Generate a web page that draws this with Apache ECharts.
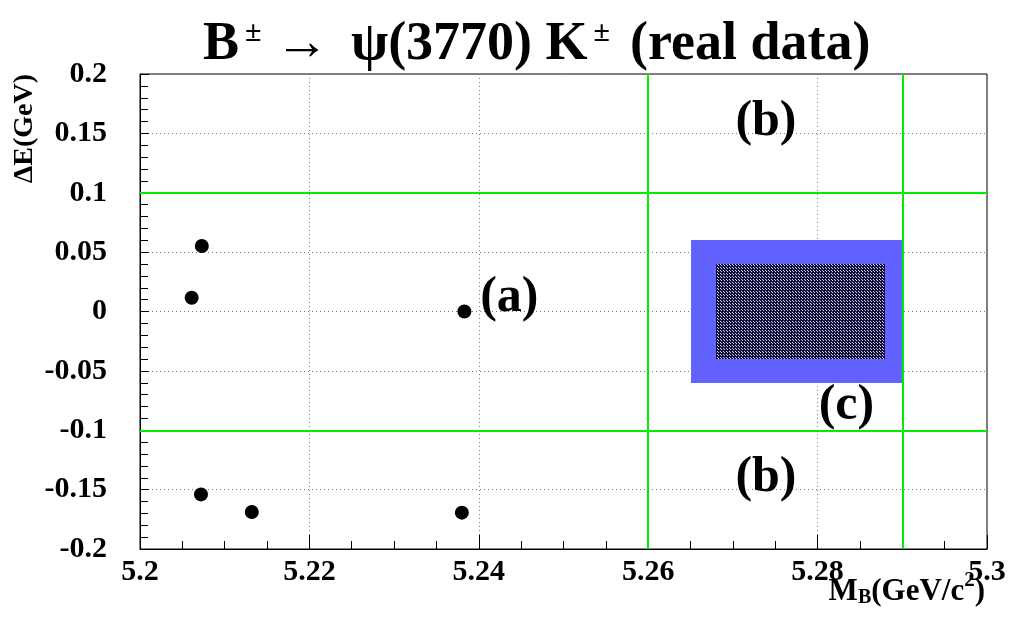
<!DOCTYPE html>
<html>
<head>
<meta charset="utf-8">
<script src="https://cdn.jsdelivr.net/npm/echarts@6/dist/echarts.min.js"></script>
<style>
html,body{margin:0;padding:0;background:#fff;}
#c{width:1010px;height:619px;}
</style>
</head>
<body>
<div id="c"></div>
<script>
// ---- data ----
const eventsMB = [5.2073, 5.2061, 5.2383, 5.2072, 5.2132, 5.2380];
const eventsDE = [0.0552, 0.0116, 0.0000, -0.154, -0.1688, -0.1694];
const cutLinesDE = [0.1, -0.1];
const cutLinesMB = [5.26, 5.29];
const outerBoxMB = [5.265, 5.29];
const outerBoxDE = [-0.06, 0.06];
const innerBoxMB = [5.268, 5.288];
const innerBoxDE = [-0.04, 0.04];
const regionLabels = ['(a)', '(b)', '(b)', '(c)'];
const regionLabelMB = [5.2436, 5.2739, 5.2739, 5.2834];
const regionLabelDE = [0.0114, 0.1596, -0.1402, -0.0796];
const xTicks = {min: 5.2, max: 5.3, step: 0.02};
const yTicks = {min: -0.2, max: 0.2, step: 0.05};

const FONT = "'Liberation Serif','Times New Roman',serif";

function dotPattern(size, dot, pts) {
  const c = document.createElement('canvas');
  c.width = size; c.height = size;
  const g = c.getContext('2d');
  g.clearRect(0, 0, size, size);
  g.fillStyle = dot;
  pts.forEach(p => g.fillRect(p[0], p[1], 1, 1));
  return c;
}
const darkDots = dotPattern(3, 'rgba(215,215,245,0.95)', [[1, 1], [0, 0]]);

const fmt = v => String(parseFloat(v.toFixed(3)));

const boxes = [
  {mb: outerBoxMB, de: outerBoxDE, base: '#6262ff', dots: null},
  {mb: innerBoxMB, de: innerBoxDE, base: '#12123a', dots: darkDots}
];

const T = {fontFamily: FONT, fontWeight: 'bold', fontSize: 54, color: '#000'};
const chart = echarts.init(document.getElementById('c'), null, {renderer: 'canvas'});
chart.setOption({
  animation: false,
  backgroundColor: '#fff',
  title: {
    text: '{n|B}{sup|±}{n| →}{psi|ψ}{n|(3770) K}{sup2|±}{rest|(real data)}',
    left: 198, top: 13,
    textStyle: {
      rich: {
        n: T,
        psi: Object.assign({}, T, {padding: [0, 0, 0, 22]}),
        rest: Object.assign({}, T, {padding: [0, 0, 0, 20]}),
        sup: {fontFamily: FONT, fontWeight: 'bold', fontSize: 30, color: '#000', verticalAlign: 'top', padding: [0, 0, 0, 6]},
        sup2: {fontFamily: FONT, fontWeight: 'bold', fontSize: 30, color: '#000', verticalAlign: 'top', padding: [0, 0, 0, 6]}
      }
    }
  },
  grid: {left: 140, right: 23, top: 74, bottom: 70, show: true, borderColor: '#000', borderWidth: 1, backgroundColor: '#fff'},
  xAxis: {
    type: 'value', min: xTicks.min, max: xTicks.max, interval: xTicks.step,
    axisLine: {show: true, onZero: false, lineStyle: {color: '#000', width: 1}},
    axisTick: {show: true, inside: true, length: 14, lineStyle: {color: '#000'}},
    minorTick: {show: true, splitNumber: 4, length: 8, lineStyle: {color: '#000'}},
    splitLine: {show: true, lineStyle: {color: '#777', type: [1, 3], width: 1}},
    axisLabel: {formatter: fmt, fontFamily: FONT, fontWeight: 'bold', fontSize: 30, color: '#000', margin: 8, showMinLabel: true, showMaxLabel: true}
  },
  yAxis: {
    type: 'value', min: yTicks.min, max: yTicks.max, interval: yTicks.step,
    axisLine: {show: true, onZero: false, lineStyle: {color: '#000', width: 1}},
    axisTick: {show: true, inside: true, length: 9, lineStyle: {color: '#000'}},
    minorTick: {show: true, splitNumber: 5, length: 8, lineStyle: {color: '#000'}},
    splitLine: {show: true, lineStyle: {color: '#777', type: [1, 3], width: 1}},
    axisLabel: {formatter: fmt, fontFamily: FONT, fontWeight: 'bold', fontSize: 30, color: '#000', margin: 33, showMinLabel: true, showMaxLabel: true}
  },
  graphic: [
    {
      type: 'text', left: 11, top: 74, rotation: Math.PI / 2,
      style: {text: 'ΔE(GeV)', font: "bold 28px " + FONT, fill: '#000'}
    },
    {
      type: 'text', right: 25, top: 570,
      style: {
        text: '{n|M}{sub|B}{n|(GeV/c}{sup|2}{n|)}',
        rich: {
          n: {fontFamily: FONT, fontWeight: 'bold', fontSize: 31, fill: '#000', padding: [6, 0, 0, 0]},
          sub: {fontFamily: FONT, fontWeight: 'bold', fontSize: 20, fill: '#000', verticalAlign: 'bottom', padding: [18, 0, 0, 0]},
          sup: {fontFamily: FONT, fontWeight: 'bold', fontSize: 21, fill: '#000', verticalAlign: 'top'}
        }
      }
    }
  ],
  series: [
    {
      type: 'custom', name: 'signal boxes', z: 2, silent: true,
      coordinateSystem: 'cartesian2d',
      data: boxes.map((b, i) => [b.mb[0], b.de[1], b.mb[1], b.de[0], i]),
      renderItem: function (params, api) {
        const p1 = api.coord([api.value(0), api.value(1)]);
        const p2 = api.coord([api.value(2), api.value(3)]);
        const b = boxes[api.value(4)];
        const shape = {x: Math.round(p1[0]), y: Math.round(p1[1]), width: Math.round(p2[0] - p1[0]), height: Math.round(p2[1] - p1[1])};
        const children = [{type: 'rect', shape: shape, style: {fill: b.base}}];
        if (b.dots) children.push({type: 'rect', shape: shape, style: {fill: {image: b.dots, repeat: 'repeat'}}});
        return {type: 'group', children: children};
      },
      markLine: {
        silent: true, symbol: 'none', animation: false, z: 3,
        label: {show: false},
        lineStyle: {color: '#00ee00', width: 2, type: 'solid', opacity: 1},
        emphasis: {disabled: true},
        data: cutLinesDE.map(v => ({yAxis: v})).concat(cutLinesMB.map(v => ({xAxis: v})))
      }
    },
    {
      type: 'scatter', name: 'data', z: 5,
      symbol: 'circle', symbolSize: 14,
      itemStyle: {color: '#000', opacity: 1},
      data: eventsMB.map((x, i) => [x, eventsDE[i]])
    },
    {
      type: 'scatter', name: 'labels', z: 6, silent: true,
      symbolSize: 1, itemStyle: {color: 'rgba(0,0,0,0)', opacity: 1},
      label: {
        show: true, position: 'inside', formatter: p => p.data[2],
        fontFamily: FONT, fontWeight: 'bold', fontSize: 50, color: '#000', opacity: 1
      },
      data: regionLabels.map((t, i) => [regionLabelMB[i], regionLabelDE[i], t])
    }
  ]
});
</script>
</body>
</html>
